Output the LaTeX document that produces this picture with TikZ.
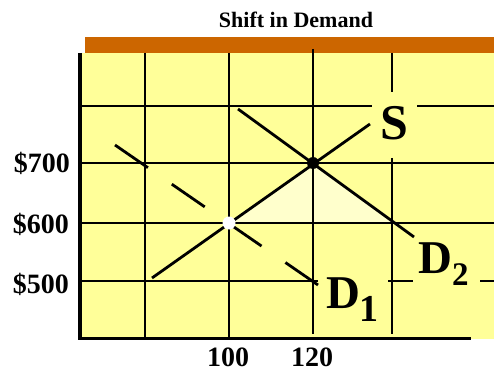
\documentclass[tikz,border=0pt]{standalone}
\usepackage{fontspec}
\setmainfont{Liberation Serif}
\definecolor{bgyellow}{HTML}{FFFF99}
\definecolor{barorange}{HTML}{CC6600}
\definecolor{triyellow}{HTML}{FFFFCC}
\begin{document}
\begin{tikzpicture}[x=1pt,y=-1pt,
  gridline/.style={line width=2.6pt},
  axisline/.style={line width=3.6pt},
  curveline/.style={line width=2.8pt},
  ticklab/.style={inner sep=0pt,font=\bfseries\fontsize{28}{28}\selectfont},
  biglab/.style={inner sep=0pt,font=\bfseries\fontsize{#1}{#1}\selectfont}]
\useasboundingbox (0,0) rectangle (494,371);
% backgrounds
\fill[bgyellow] (81,53) rectangle (494,339);
\fill[barorange] (85,37) rectangle (494,53);
% key points
\coordinate (P1) at (229,223);
\coordinate (P2) at (313,163);
\coordinate (T3) at (394.5,223);
\fill[triyellow] (P1) -- (P2) -- (T3) -- cycle;
% vertical grid lines
\draw[gridline] (145,53) -- (145,338);
\draw[gridline] (229,53) -- (229,338);
\draw[gridline] (313,49) -- (313,334);
\draw[gridline] (392,53) -- (392,92);
\draw[gridline] (392,158) -- (392,334);
% horizontal grid lines
\draw[gridline] (82,106) -- (372,106);
\draw[gridline] (417,106) -- (494,106);
\draw[gridline] (82,163) -- (494,163);
\draw[gridline] (82,223) -- (494,223);
\draw[gridline] (82,281) -- (318,281);
\draw[gridline] (388,281) -- (413,281);
\draw[gridline] (480,281) -- (494,281);
% axes
\draw[axisline] (80,53) -- (80,340);
\draw[axisline] (78,338.5) -- (471,338.5);
% curves
\coordinate (Sa) at (152,278);
\coordinate (Sb) at (370,124);
\draw[curveline] (Sa) -- (Sb);
\coordinate (D2a) at (238,109);
\coordinate (D2b) at (414,237);
\draw[curveline] (D2a) -- (D2b);
\coordinate (D1a) at (115,145);
\coordinate (D1b) at (318,285);
\draw[curveline,dash pattern=on 40pt off 29pt] (D1a) -- (D1b);
% points
\fill[black] (P2) circle (6pt);
\fill[white] (P1) circle (6.5pt);
% labels
\node[biglab=22,anchor=base] (title) at (296,28) {Shift in Demand};
\node[biglab=50,anchor=base west] (lS) at (380,140) {S};
\node[biglab=47,anchor=base west] (lD1) at (326,308) {D};
\node[biglab=38,anchor=base west] (lD1s) at (359,321) {1};
\node[biglab=47,anchor=base west] (lD2) at (418,273) {D};
\node[biglab=33,anchor=base west] (lD2s) at (452,285) {2};
\node[ticklab,anchor=base east] (p700) at (70,173) {\$700};
\node[ticklab,anchor=base east] (p600) at (69,233) {\$600};
\node[ticklab,anchor=base east] (p500) at (69,293) {\$500};
\node[ticklab,anchor=base] (q100) at (228,366.5) {100};
\node[ticklab,anchor=base] (q120) at (312,366.5) {120};
\end{tikzpicture}
\end{document}
